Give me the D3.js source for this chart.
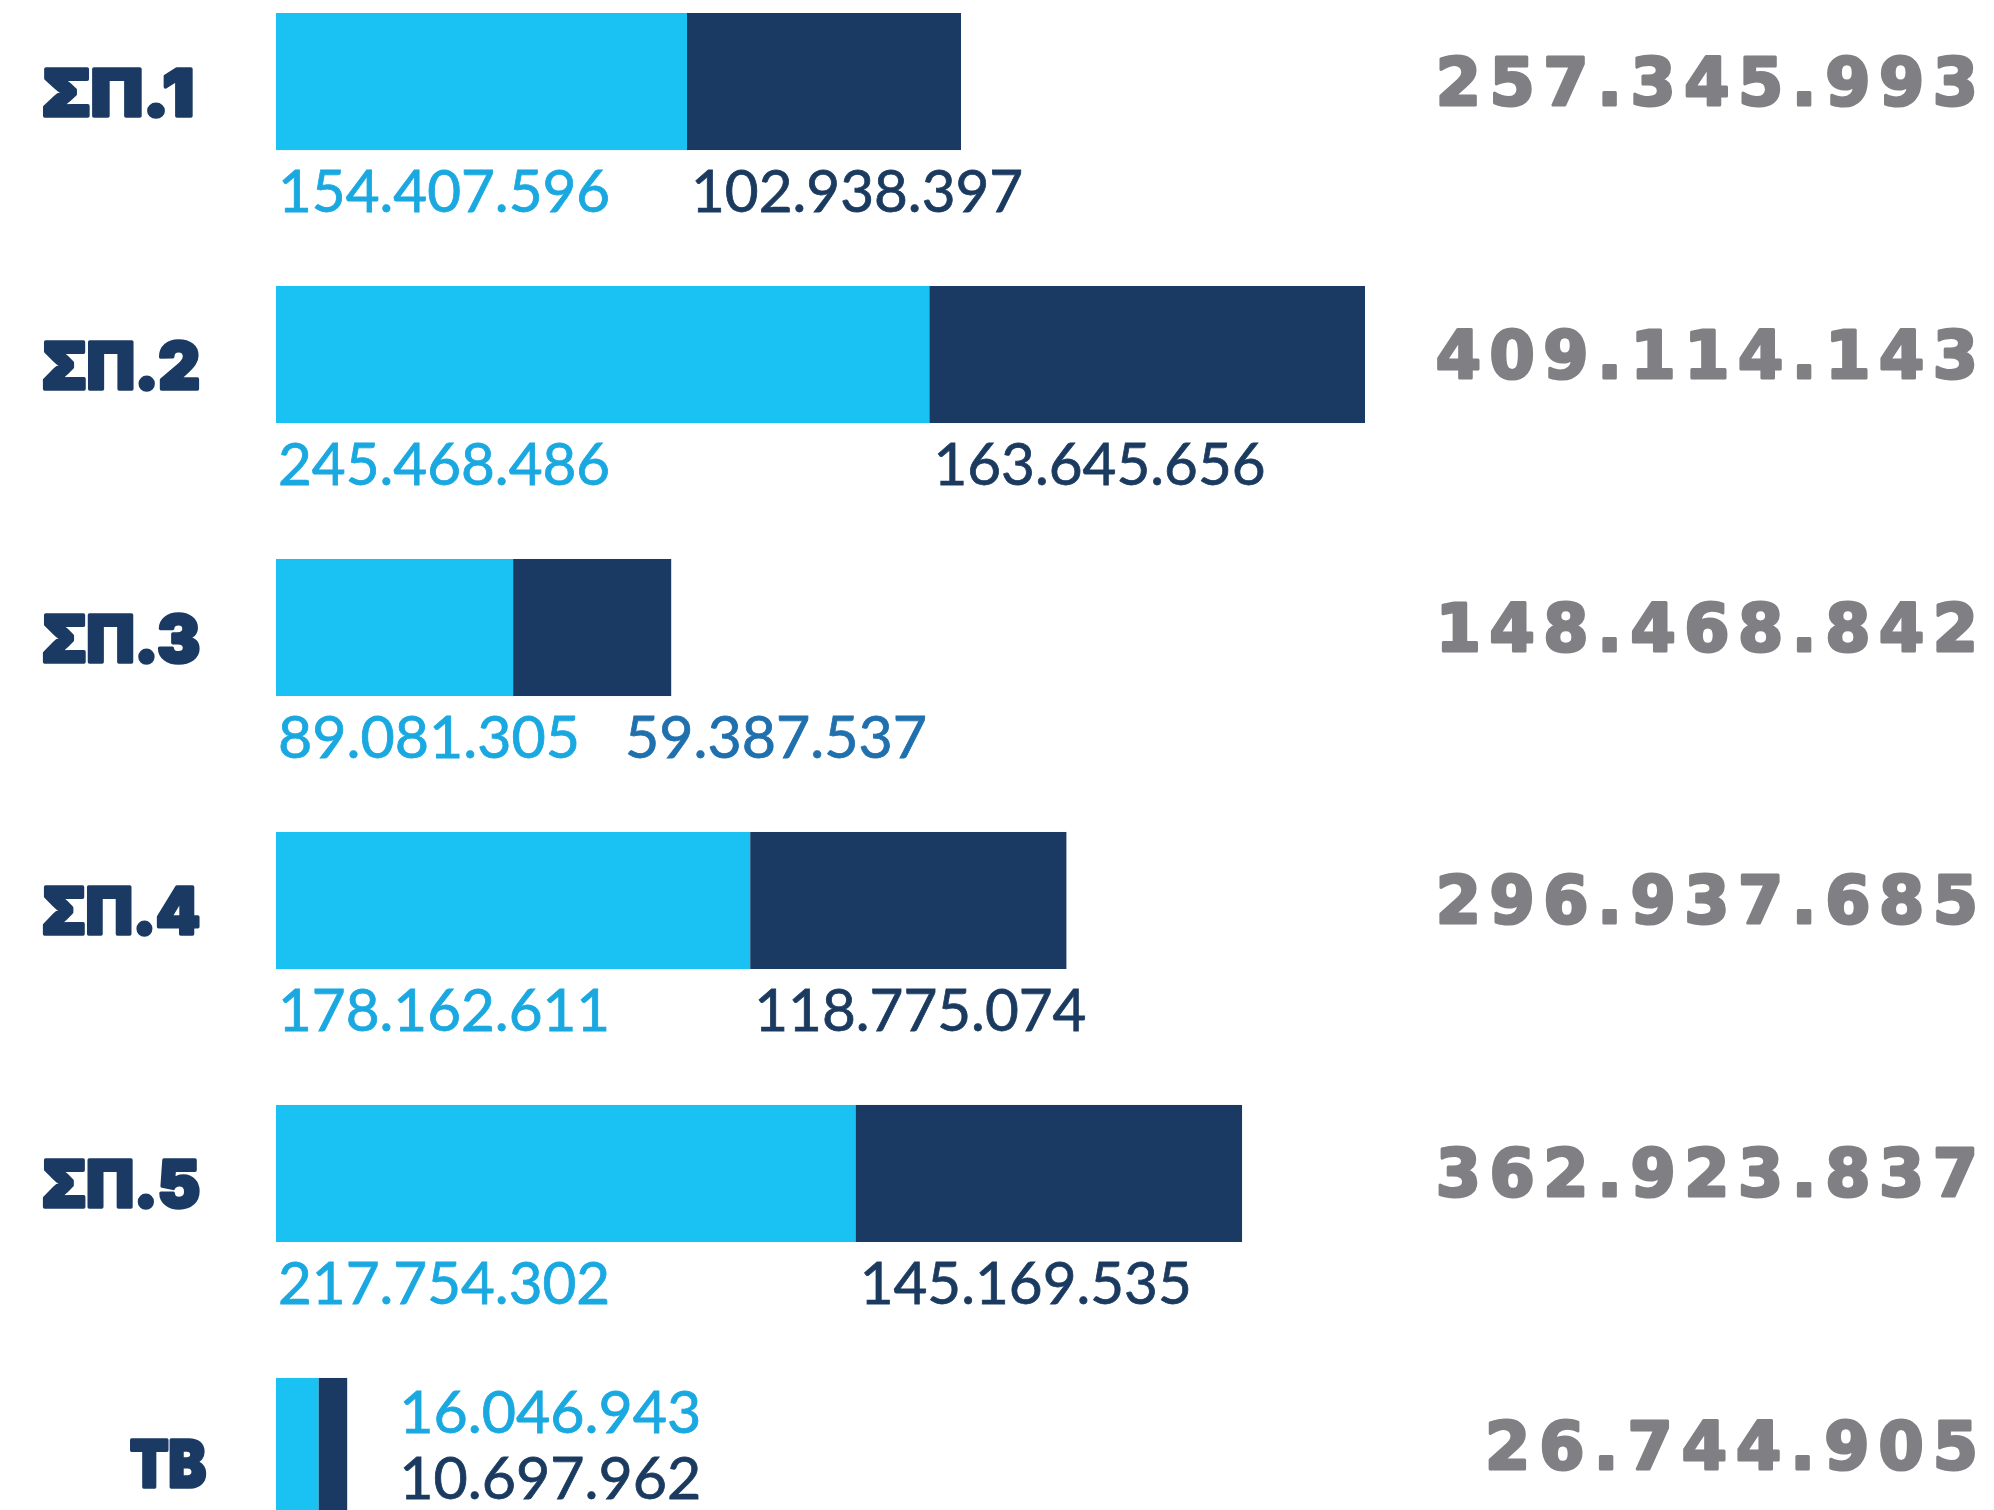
<!DOCTYPE html>
<html>
<head>
<meta charset="utf-8">
<script src="https://cdn.jsdelivr.net/npm/d3@7"></script>
<style>
  body { margin: 0; background: #fff; }
  svg { display: block; }
</style>
</head>
<body>
<svg width="1994" height="1510"></svg>
<script>
// data
const categories = ["ΣΠ.1", "ΣΠ.2", "ΣΠ.3", "ΣΠ.4", "ΣΠ.5", "TB"];
const lightValues = [154407596, 245468486, 89081305, 178162611, 217754302, 16046943];
const darkValues = [102938397, 163645656, 59387537, 118775074, 145169535, 10697962];
const totals = [257345993, 409114143, 148468842, 296937685, 362923837, 26744905];

var svg = d3.select("svg"),
    width = +svg.attr("width"),
    height = +svg.attr("height");

// colours
const lightBlue = "#19c2f2",
      darkBlue = "#1b3a63",
      lightText = "#1aa8e0",
      darkText = "#1b3a5f",
      midText = "#1f70ad",
      grey = "#808084";

// number format with dots for thousands
const fmt = d3.formatLocale({decimal: ",", thousands: ".", grouping: [3], currency: ["", ""]}).format(",");

// scales
var x = d3.scaleLinear()
    .domain([0, d3.max(totals)])
    .range([276, 1365]);

var y = d3.scaleBand()
    .domain(categories)
    .range([13, 1515])
    .paddingInner(0.498)
    .paddingOuter(0);

const rows = categories.map((c, i) => ({
    cat: c, light: lightValues[i], dark: darkValues[i], total: totals[i], i: i
}));

// value labels are narrow geometric digits
const valueFont = "Lato, 'Open Sans', sans-serif";
const charW = 30.2;

var row = svg.selectAll("g.row")
    .data(rows)
    .enter().append("g")
    .attr("class", "row");

// light part
row.append("rect")
    .attr("x", x(0))
    .attr("y", d => y(d.cat))
    .attr("width", d => x(d.light) - x(0))
    .attr("height", y.bandwidth())
    .attr("fill", lightBlue);

// dark part
row.append("rect")
    .attr("x", d => x(d.light))
    .attr("y", d => y(d.cat))
    .attr("width", d => x(d.light + d.dark) - x(d.light))
    .attr("height", y.bandwidth())
    .attr("fill", darkBlue);

// category label on the left
row.append("text")
    .attr("x", d => d.cat === "TB" ? 206 : 42)
    .attr("y", d => y(d.cat) + y.bandwidth() / 2 + (d.cat === "TB" ? 41 : 34))
    .attr("text-anchor", d => d.cat === "TB" ? "end" : "start")
    .attr("font-family", "Inter, Roboto, 'Noto Sans', sans-serif")
    .attr("font-weight", 900)
    .attr("font-size", 64)
    .attr("fill", darkBlue)
    .attr("stroke", darkBlue)
    .attr("stroke-width", 3.5)
    .attr("stroke-linejoin", "round")
    .attr("textLength", d => d.cat === "TB" ? 76 : (d.cat === "ΣΠ.1" ? 152 : 158))
    .attr("lengthAdjust", "spacingAndGlyphs")
    .text(d => d.cat);

// total on the right
row.append("text")
    .attr("x", 1978)
    .attr("y", d => y(d.cat) + y.bandwidth() / 2 + 23)
    .attr("text-anchor", "end")
    .attr("font-family", "'DejaVu Sans', Verdana, sans-serif")
    .attr("font-weight", 700)
    .attr("font-size", 65)
    .attr("fill", grey)
    .attr("stroke", grey)
    .attr("stroke-width", 3)
    .attr("stroke-linejoin", "round")
    .attr("textLength", d => fmt(d.total).length * 49.3)
    .attr("lengthAdjust", "spacing")
    .text(d => fmt(d.total));

// labels under the bars (or beside, for the small TB bar)
rows.forEach(function (d) {
    var g = svg.append("g");
    var lightStr = fmt(d.light), darkStr = fmt(d.dark);
    var top = y(d.cat), bottom = top + y.bandwidth();
    if (x(d.total) - x(0) < 150) {
        var lx = x(d.total) + 52;
        g.append("text").attr("x", lx).attr("y", top + 55)
            .attr("fill", lightText).text(lightStr)
            .attr("textLength", lightStr.length * charW);
        g.append("text").attr("x", lx).attr("y", top + 121)
            .attr("fill", darkText).text(darkStr)
            .attr("textLength", darkStr.length * charW);
    } else {
        var lightEnd = x(0) + 2 + lightStr.length * charW;
        var dx = x(d.light) + 4;
        var shifted = dx < lightEnd + 30;
        if (shifted) dx = lightEnd + 45;
        g.append("text").attr("x", x(0) + 2).attr("y", bottom + 62)
            .attr("fill", lightText).text(lightStr)
            .attr("textLength", lightStr.length * charW);
        g.append("text").attr("x", dx).attr("y", bottom + 62)
            .attr("fill", shifted ? midText : darkText).text(darkStr)
            .attr("textLength", darkStr.length * charW);
    }
    g.selectAll("text")
        .attr("font-family", valueFont)
        .attr("font-size", 58)
        .attr("stroke", function () { return d3.select(this).attr("fill"); })
        .attr("stroke-width", 0.8)
        .attr("lengthAdjust", "spacingAndGlyphs");
});
</script>
</body>
</html>
